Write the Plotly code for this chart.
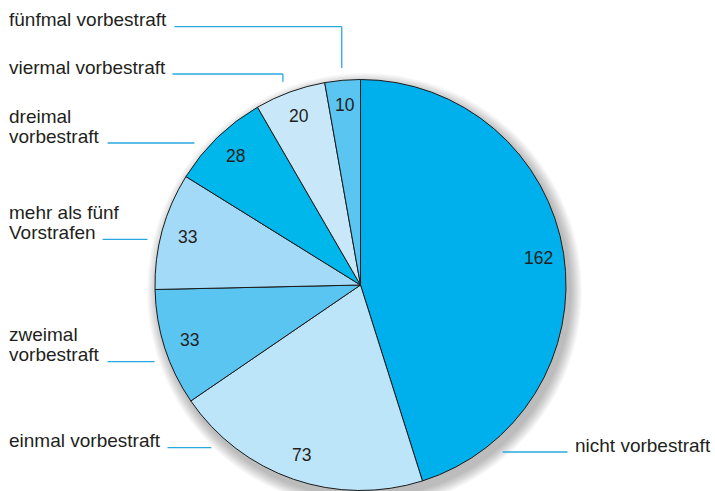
import math
import plotly.graph_objects as go

# ---- data ----
categories = ["nicht vorbestraft", "einmal vorbestraft", "zweimal vorbestraft",
              "mehr als fünf Vorstrafen", "dreimal vorbestraft",
              "viermal vorbestraft", "fünfmal vorbestraft"]
values = [162, 73, 33, 33, 28, 20, 10]
colors = ["#00B0EC", "#BDE5FA", "#5BC5F2", "#A3DAF7", "#00B7EB", "#C8E8FA", "#5BC5F2"]

# ---- layout geometry (pixels) ----
W, H = 715, 491
ML, MR, MT, MB = 154.5, 148.5, 79, 0
PW, PH = W - ML - MR, H - MT - MB
CX, CY = ML + PW / 2, MT + PH / 2
R = min(PW, PH) / 2


def px(x, y):
    return (x - ML) / PW, (H - MB - y) / PH


fig = go.Figure(go.Pie(
    labels=categories, values=values, sort=False, direction="clockwise",
    rotation=0, textinfo="none", hoverinfo="label+value",
    marker=dict(colors=colors, line=dict(color="#1a1a1a", width=1)),
    domain=dict(x=[0, 1], y=[0, 1]), showlegend=False,
))

annotations = []
shapes = []

# value labels inside slices
total = sum(values)
cum = 0
for v in values:
    mid = (cum + v / 2) / total * 2 * math.pi
    cum += v
    r = R * 0.875
    x = CX + r * math.sin(mid)
    y = CY - r * math.cos(mid)
    xp, yp = px(x, y)
    annotations.append(dict(x=xp, y=yp, xref="paper", yref="paper", text=str(v),
                            showarrow=False, xanchor="center", yanchor="middle",
                            font=dict(family="Liberation Sans, Arial", size=17.5, color="#231f20")))

# outside category labels (text lines: x, baseline y)
label_lines = [
    ("fünfmal vorbestraft", 6, 26),
    ("viermal vorbestraft", 6, 74),
    ("dreimal", 6, 123), ("vorbestraft", 6, 143),
    ("mehr als fünf", 6, 219), ("Vorstrafen", 6, 239),
    ("zweimal", 6, 341), ("vorbestraft", 6, 361),
    ("einmal vorbestraft", 6, 447),
    ("nicht vorbestraft", 574, 452),
]
for t, x, yb in label_lines:
    xp, yp = px(x, yb - 6.5)
    annotations.append(dict(x=xp, y=yp, xref="paper", yref="paper", text=t,
                            showarrow=False, xanchor="left", yanchor="middle",
                            font=dict(family="Liberation Sans, Arial", size=19, color="#231f20")))

# leader lines (polylines in pixels)
leaders = [
    [(174, 26.7), (341.7, 26.7), (341.7, 68)],
    [(172, 74), (282.7, 74), (282.7, 81.7)],
    [(107, 143), (194, 143)],
    [(102, 239.3), (147, 239.3)],
    [(107, 361.7), (154, 361.7)],
    [(167, 447.7), (211, 447.7)],
    [(503, 452), (568, 452)],
]
for pts in leaders:
    for (x0, y0), (x1, y1) in zip(pts[:-1], pts[1:]):
        a0, b0 = px(x0, y0)
        a1, b1 = px(x1, y1)
        shapes.append(dict(type="line", xref="paper", yref="paper", x0=a0, y0=b0, x1=a1, y1=b1,
                           line=dict(color="#29A8E0", width=1.3)))

# soft drop shadow behind the pie
for k in range(1, 13):
    rr = R + k * 1.0
    ox, oy = 4, 6
    a0, b0 = px(CX + ox - rr, CY + oy + rr)
    a1, b1 = px(CX + ox + rr, CY + oy - rr)
    shapes.append(dict(type="circle", xref="paper", yref="paper", x0=a0, y0=b0, x1=a1, y1=b1,
                       fillcolor="rgba(0,0,0,0.022)", line=dict(width=0), layer="below"))

fig.update_layout(
    width=W, height=H, margin=dict(l=ML, r=MR, t=MT, b=MB, pad=0),
    paper_bgcolor="white", plot_bgcolor="white",
    annotations=annotations, shapes=shapes,
)
fig.write_html("out.html", config={"displayModeBar": False},
               post_script="document.body.style.margin='0';document.body.style.overflow='hidden';")
